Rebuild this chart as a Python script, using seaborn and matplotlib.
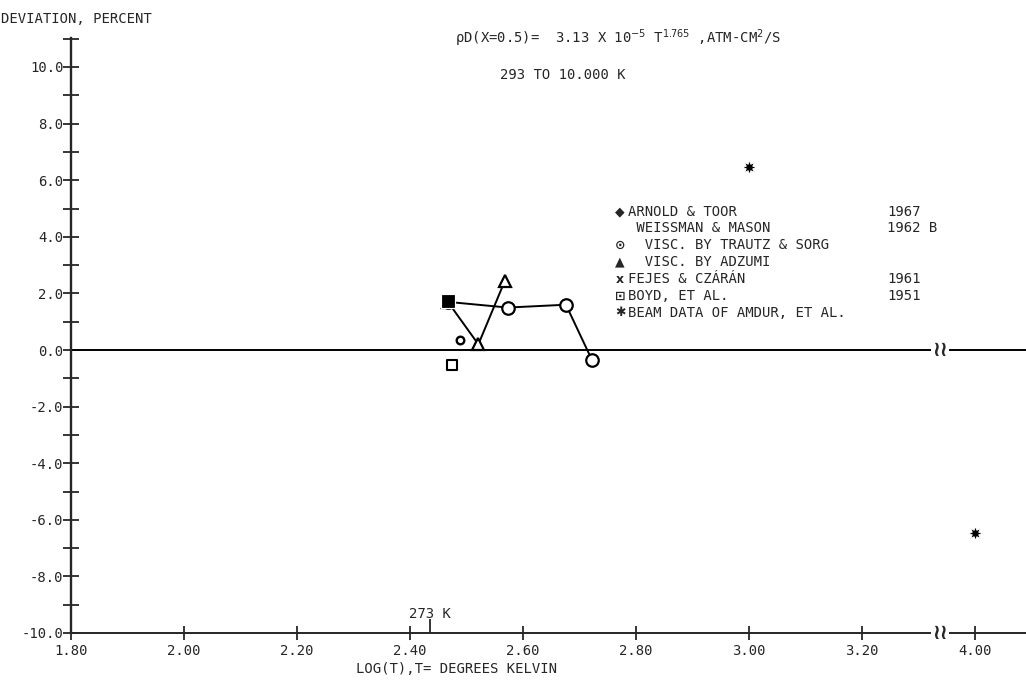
import numpy as np
import pandas as pd
import seaborn as sns
import matplotlib.pyplot as plt

# log10(T) and deviation (percent)
trautz_x = [2.467, 2.573, 2.676, 2.722]
trautz_y = [1.70, 1.50, 1.60, -0.35]
adzumi_x = [2.467, 2.521, 2.568]
adzumi_y = [1.70, 0.20, 2.45]
fejes_x = [2.467]
fejes_y = [1.72]
arnold_x = [2.489]
arnold_y = [0.35]
boyd_x = [2.474]
boyd_y = [-0.53]
beam_x = [3.00, 4.00]
beam_y = [6.45, -6.45]

x_ticks = [1.80, 2.00, 2.20, 2.40, 2.60, 2.80, 3.00, 3.20, 4.00]
x_ticklabels = ['1.80', '2.00', '2.20', '2.40', '2.60', '2.80', '3.00', '3.20', '4.00']
y_ticks = [-10, -8, -6, -4, -2, 0, 2, 4, 6, 8, 10]

legend_rows = [
    ('\u25c6', 'ARNOLD & TOOR', '1967'),
    ('', ' WEISSMAN & MASON', '1962 B'),
    ('\u2299', '  VISC. BY TRAUTZ & SORG', ''),
    ('\u25b2', '  VISC. BY ADZUMI', ''),
    ('x', 'FEJES & CZÁRÁN', '1961'),
    ('\u22a1', 'BOYD, ET AL.', '1951'),
    ('\u2731', 'BEAM DATA OF AMDUR, ET AL.', ''),
]

# broken axis: everything past the break is shifted left by 0.6
def brk(x):
    x = np.asarray(x, dtype=float)
    return np.where(x > 3.3, x - 0.6, x)

sns.set_style('ticks')
plt.rcParams['font.family'] = ['DejaVu Sans Mono', 'DejaVu Sans']
plt.rcParams['mathtext.fontset'] = 'dejavusans'
fs = 10

fig = plt.figure(figsize=(10.26, 6.81), dpi=100)
ax = fig.add_axes([71/1026, 1-633/681, 1-71/1026, (633-38)/681])

ax.axhline(0, color='black', lw=1.4, zorder=1)

sns.lineplot(x=trautz_x, y=trautz_y, ax=ax, color='black', lw=1.4, sort=False,
             marker='o', markersize=9, markerfacecolor='white', markeredgecolor='black',
             markeredgewidth=1.6)
sns.lineplot(x=adzumi_x, y=adzumi_y, ax=ax, color='black', lw=1.4, sort=False,
             marker='^', markersize=8, markerfacecolor='white', markeredgecolor='black',
             markeredgewidth=1.6)
sns.scatterplot(x=fejes_x, y=fejes_y, ax=ax, marker='s', s=110, color='black', zorder=5)
sns.scatterplot(x=arnold_x, y=arnold_y, ax=ax, marker='o', s=30, facecolor='white',
                edgecolor='black', linewidth=1.7, zorder=5)
sns.scatterplot(x=boyd_x, y=boyd_y, ax=ax, marker='s', s=45, facecolor='white',
                edgecolor='black', linewidth=1.5, zorder=5)
sns.scatterplot(x=brk(beam_x), y=beam_y, ax=ax, marker=(8, 1, 0), s=100, color='black',
                linewidth=0.6, zorder=5)

ax.set_xlim(1.80, 1.80 + (1026 - 71) / 565)
ax.set_ylim(-10, -10 + (633 - 38) / 28.3)

sns.despine(ax=ax)
ax.spines['left'].set_linewidth(1.7)
ax.spines['bottom'].set_linewidth(1.4)

ax.set_xticks(brk(x_ticks))
ax.set_xticklabels(x_ticklabels, fontsize=fs)
ax.set_xticks([np.log10(273)], minor=True)
ax.set_yticks(y_ticks)
ax.set_yticklabels(['%.1f' % v for v in y_ticks], fontsize=fs)
ax.set_yticks(np.arange(-9, 12, 2), minor=True)
ax.tick_params(axis='y', which='both', direction='inout', length=11, width=1.3, pad=0)
ax.tick_params(axis='x', which='major', direction='inout', length=10, width=1.3, pad=3)
ax.tick_params(axis='x', which='minor', direction='in', length=10, width=1.3)
for lab in ax.get_xticklabels():
    lab.set_x(lab.get_position()[0])
ax.set_xlabel('')
ax.set_ylabel('')

# axis break marks
for yb in [0, -10]:
    ax.text(3.338, yb, '\u2240\u2240', ha='center', va='center', fontsize=15,
            family=['DejaVu Sans'], fontweight='bold',
            bbox=dict(boxstyle='square,pad=0.05', fc='white', ec='none'), zorder=6)

ax.annotate('273 K', xy=(np.log10(273), -10), xytext=(0, 9), textcoords='offset points',
            ha='center', va='bottom', fontsize=fs)

# legend block written as text
row_y = [212, 228, 245, 262, 279, 296, 313]
for (sym, name, year), py in zip(legend_rows, row_y):
    fy = 1 - py / 681
    if sym:
        fig.text(620/1026, fy, sym, ha='center', va='center', fontsize=9,
                 family=['DejaVu Sans'], fontweight='bold')
    fig.text(628/1026, fy, name, ha='left', va='center', fontsize=fs)
    if year:
        fig.text(887/1026, fy, year, ha='left', va='center', fontsize=fs)

fig.text(455/1026, 1 - 38/681,
         r'ρD(X=0.5)=  3.13 X 10$^{-5}$ T$^{1.765}$ ,ATM-CM$^{2}$/S',
         ha='left', va='center', fontsize=fs)
fig.text(500/1026, 1 - 75/681, '293 TO 10.000 K', ha='left', va='center', fontsize=fs)
fig.text(1/1026, 1 - 19/681, 'DEVIATION, PERCENT', ha='left', va='center', fontsize=fs)
fig.text(457/1026, 1 - 669/681, 'LOG(T),T= DEGREES KELVIN', ha='center', va='center',
         fontsize=fs)

fig.savefig('out.png', dpi=100)
